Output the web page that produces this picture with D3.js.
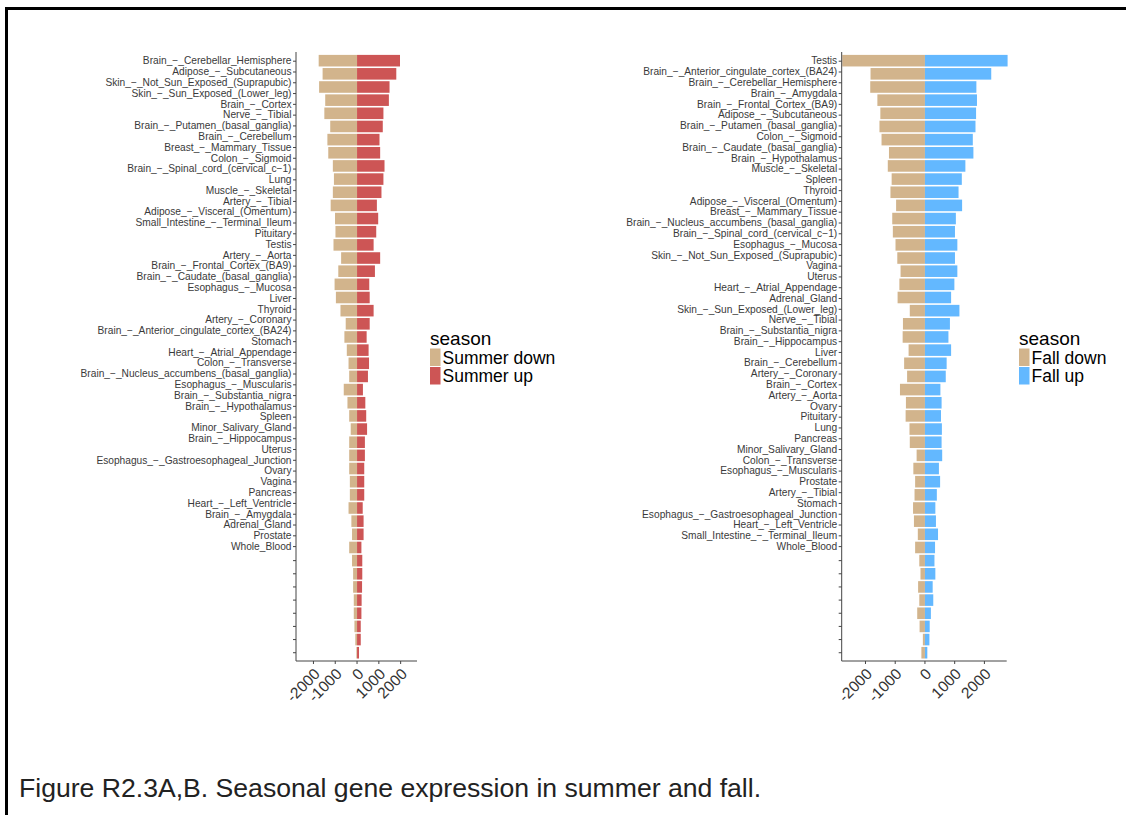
<!DOCTYPE html>
<html>
<head>
<meta charset="utf-8">
<script src="https://cdn.jsdelivr.net/npm/d3@7"></script>
<style>
body { margin: 0; background: #fff; }
text { font-family: "Liberation Sans", Arial, sans-serif; }
</style>
</head>
<body>
<svg id="fig" width="1126" height="815"></svg>
<script>
// tissues, top to bottom, as printed on each y axis
var summerTissues = ["Brain_\u2212_Cerebellar_Hemisphere", "Adipose_\u2212_Subcutaneous", "Skin_\u2212_Not_Sun_Exposed_(Suprapubic)", "Skin_\u2212_Sun_Exposed_(Lower_leg)", "Brain_\u2212_Cortex", "Nerve_\u2212_Tibial", "Brain_\u2212_Putamen_(basal_ganglia)", "Brain_\u2212_Cerebellum", "Breast_\u2212_Mammary_Tissue", "Colon_\u2212_Sigmoid", "Brain_\u2212_Spinal_cord_(cervical_c\u22121)", "Lung", "Muscle_\u2212_Skeletal", "Artery_\u2212_Tibial", "Adipose_\u2212_Visceral_(Omentum)", "Small_Intestine_\u2212_Terminal_Ileum", "Pituitary", "Testis", "Artery_\u2212_Aorta", "Brain_\u2212_Frontal_Cortex_(BA9)", "Brain_\u2212_Caudate_(basal_ganglia)", "Esophagus_\u2212_Mucosa", "Liver", "Thyroid", "Artery_\u2212_Coronary", "Brain_\u2212_Anterior_cingulate_cortex_(BA24)", "Stomach", "Heart_\u2212_Atrial_Appendage", "Colon_\u2212_Transverse", "Brain_\u2212_Nucleus_accumbens_(basal_ganglia)", "Esophagus_\u2212_Muscularis", "Brain_\u2212_Substantia_nigra", "Brain_\u2212_Hypothalamus", "Spleen", "Minor_Salivary_Gland", "Brain_\u2212_Hippocampus", "Uterus", "Esophagus_\u2212_Gastroesophageal_Junction", "Ovary", "Vagina", "Pancreas", "Heart_\u2212_Left_Ventricle", "Brain_\u2212_Amygdala", "Adrenal_Gland", "Prostate", "Whole_Blood"];
var summerDown = [-1760, -1580, -1740, -1460, -1500, -1230, -1360, -1320, -1110, -1060, -1110, -1210, -1010, -990, -1080, -730, -860, -1030, -970, -760, -520, -580, -470, -390, -360, -610, -440, -360, -290, -360, -360, -360, -330, -330, -390, -260, -230, -360, -230, -180, -180, -150, -150, -120, -80, -30];
var summerUp = [1970, 1800, 1490, 1460, 1210, 1180, 1030, 1060, 1260, 1210, 1120, 910, 970, 880, 760, 1060, 820, 560, 580, 760, 580, 440, 530, 550, 500, 270, 380, 420, 460, 360, 360, 330, 330, 330, 260, 300, 300, 200, 240, 240, 230, 210, 200, 170, 170, 90];

var fallTissues = ["Testis", "Brain_\u2212_Anterior_cingulate_cortex_(BA24)", "Brain_\u2212_Cerebellar_Hemisphere", "Brain_\u2212_Amygdala", "Brain_\u2212_Frontal_Cortex_(BA9)", "Adipose_\u2212_Subcutaneous", "Brain_\u2212_Putamen_(basal_ganglia)", "Colon_\u2212_Sigmoid", "Brain_\u2212_Caudate_(basal_ganglia)", "Brain_\u2212_Hypothalamus", "Muscle_\u2212_Skeletal", "Spleen", "Thyroid", "Adipose_\u2212_Visceral_(Omentum)", "Breast_\u2212_Mammary_Tissue", "Brain_\u2212_Nucleus_accumbens_(basal_ganglia)", "Brain_\u2212_Spinal_cord_(cervical_c\u22121)", "Esophagus_\u2212_Mucosa", "Skin_\u2212_Not_Sun_Exposed_(Suprapubic)", "Vagina", "Uterus", "Heart_\u2212_Atrial_Appendage", "Adrenal_Gland", "Skin_\u2212_Sun_Exposed_(Lower_leg)", "Nerve_\u2212_Tibial", "Brain_\u2212_Substantia_nigra", "Brain_\u2212_Hippocampus", "Liver", "Brain_\u2212_Cerebellum", "Artery_\u2212_Coronary", "Brain_\u2212_Cortex", "Artery_\u2212_Aorta", "Ovary", "Pituitary", "Lung", "Pancreas", "Minor_Salivary_Gland", "Colon_\u2212_Transverse", "Esophagus_\u2212_Muscularis", "Prostate", "Artery_\u2212_Tibial", "Stomach", "Esophagus_\u2212_Gastroesophageal_Junction", "Heart_\u2212_Left_Ventricle", "Small_Intestine_\u2212_Terminal_Ileum", "Whole_Blood"];
var fallDown = [-2780, -1830, -1840, -1600, -1500, -1530, -1460, -1210, -1250, -1120, -1160, -970, -1100, -1080, -990, -930, -820, -860, -920, -510, -740, -750, -550, -700, -600, -840, -640, -650, -520, -510, -280, -390, -330, -350, -400, -370, -240, -330, -190, -150, -230, -190, -260, -180, -70, -120];
var fallUp = [2780, 2230, 1730, 1750, 1720, 1700, 1610, 1630, 1360, 1240, 1130, 1250, 1040, 1010, 1090, 1010, 1090, 990, 880, 1160, 840, 790, 880, 730, 700, 520, 560, 540, 570, 560, 580, 470, 510, 400, 350, 370, 440, 340, 320, 350, 260, 280, 200, 160, 150, 80];

var xTicks = [-2000, -1000, 0, 1000, 2000];
var downColor = "#D2B48C";
var summerColor = "#CD5555";
var fallColor = "#63B8FF";

var svg = d3.select("#fig");
svg.append("rect").attr("width", 1126).attr("height", 815).attr("fill", "#fff");

// frame of the figure
svg.append("path")
	.attr("d", "M6.5,815 V8.5 H1126")
	.attr("fill", "none")
	.attr("stroke", "#000")
	.attr("stroke-width", 3);

function drawPanel(p) {
	var g = svg.append("g");

	var x = d3.scaleLinear().domain([-2800, 2750]).range([p.left, p.right]);

	// bar rows
	var y = d3.scaleBand().domain(p.tissues)
		.range([54.1, 659.3])
		.paddingInner(0.12).paddingOuter(0.06);

	// printed labels sit tighter than the bars
	var yLab = d3.scalePoint().domain(p.tissues).range([60.7, 546.1]);

	var rows = p.tissues.map(function(t, i) {
		return { tissue: t, down: p.down[i], up: p.up[i] };
	});

	g.selectAll(".down").data(rows).enter().append("rect")
		.attr("class", "down")
		.attr("x", function(d) { return x(d.down); })
		.attr("y", function(d) { return y(d.tissue); })
		.attr("width", function(d) { return x(0) - x(d.down); })
		.attr("height", y.bandwidth())
		.attr("fill", downColor);

	g.selectAll(".up").data(rows).enter().append("rect")
		.attr("class", "up")
		.attr("x", x(0))
		.attr("y", function(d) { return y(d.tissue); })
		.attr("width", function(d) { return x(d.up) - x(0); })
		.attr("height", y.bandwidth())
		.attr("fill", p.upColor);

	// y axis line
	g.append("line")
		.attr("x1", p.left).attr("x2", p.left)
		.attr("y1", 52).attr("y2", 661)
		.attr("stroke", "#444").attr("stroke-width", 1);

	// labelled ticks
	var yAxis = g.append("g")
		.attr("transform", "translate(" + p.left + ",0)")
		.call(d3.axisLeft(yLab).tickSize(3).tickPadding(1.5));
	yAxis.select(".domain").remove();
	yAxis.selectAll("line").attr("stroke", "#444");
	yAxis.selectAll("text")
		.attr("font-size", "10.2px")
		.attr("fill", "#3a3a3a")
		.attr("font-family", "\"Liberation Sans\", Arial, sans-serif");

	// bare ticks below the labels
	var yAxis2 = g.append("g")
		.attr("transform", "translate(" + p.left + ",0)")
		.call(d3.axisLeft(y).tickValues(p.tissues.slice(38)).tickSize(3).tickFormat(""));
	yAxis2.select(".domain").remove();
	yAxis2.selectAll("line").attr("stroke", "#444");

	// x axis
	g.append("line")
		.attr("x1", p.left).attr("x2", p.right)
		.attr("y1", 661).attr("y2", 661)
		.attr("stroke", "#444").attr("stroke-width", 1);

	var xt = g.selectAll(".xt").data(xTicks).enter().append("g")
		.attr("class", "xt");
	xt.append("line")
		.attr("x1", function(d) { return x(d); })
		.attr("x2", function(d) { return x(d); })
		.attr("y1", 661).attr("y2", 664)
		.attr("stroke", "#444");
	xt.append("text")
		.attr("transform", function(d) { return "translate(" + (x(d) + 7.5) + ",675) rotate(-45)"; })
		.attr("text-anchor", "end")
		.attr("font-size", "15.5px")
		.attr("fill", "#333")
		.text(function(d) { return d; });

	// legend
	var lg = g.append("g").attr("transform", "translate(" + p.legendX + ",0)");
	lg.append("text").attr("x", 0).attr("y", 345)
		.attr("font-size", "19px").attr("fill", "#000").text("season");
	var items = [{ label: p.names[0], color: downColor }, { label: p.names[1], color: p.upColor }];
	var li = lg.selectAll(".li").data(items).enter().append("g")
		.attr("transform", function(d, i) { return "translate(0," + (348.5 + i * 18.5) + ")"; });
	li.append("rect").attr("width", 10.5).attr("height", 17.5).attr("fill", function(d) { return d.color; });
	li.append("text").attr("x", 12.5).attr("y", 15)
		.attr("font-size", "17.5px").attr("fill", "#000")
		.text(function(d) { return d.label; });
}

drawPanel({
	tissues: summerTissues, down: summerDown, up: summerUp,
	upColor: summerColor, left: 296, right: 417, legendX: 430,
	names: ["Summer down", "Summer up"]
});

drawPanel({
	tissues: fallTissues, down: fallDown, up: fallUp,
	upColor: fallColor, left: 841.7, right: 1006.7, legendX: 1019,
	names: ["Fall down", "Fall up"]
});

svg.append("text")
	.attr("x", 19).attr("y", 797)
	.attr("font-size", "26.6px").attr("fill", "#222")
	.text("Figure R2.3A,B. Seasonal gene expression in summer and fall.");
</script>
</body>
</html>
